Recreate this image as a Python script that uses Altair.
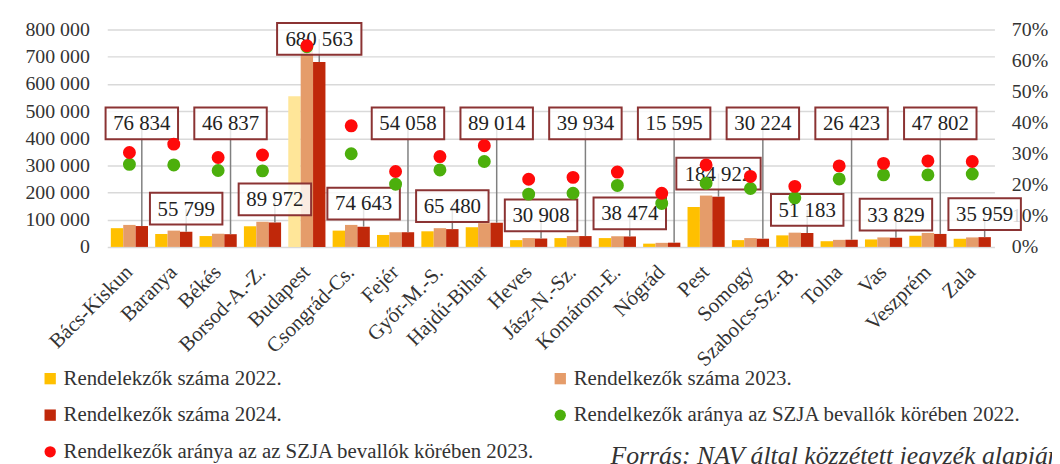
import altair as alt
import pandas as pd

counties = ["Bács-Kiskun", "Baranya", "Békés", "Borsod-A.-Z.", "Budapest", "Csongrád-Cs.",
            "Fejér", "Győr-M.-S.", "Hajdú-Bihar", "Heves", "Jász-N.-Sz.", "Komárom-E.",
            "Nógrád", "Pest", "Somogy", "Szabolcs-Sz.-B.", "Tolna", "Vas", "Veszprém", "Zala"]
v2022 = [69000, 47500, 40000, 76000, 555000, 60000, 44000, 57500, 72500, 25000,
         32500, 32500, 12000, 147000, 25000, 42500, 21000, 27500, 41000, 30000]
v2023 = [81000, 60000, 48500, 92500, 745000, 81000, 54000, 69000, 87500, 32500,
         40000, 39000, 15000, 189000, 32500, 52500, 26000, 35000, 51500, 35000]
v2024 = [76834, 55799, 46837, 89972, 680563, 74643, 54058, 65480, 89014, 30908,
         39934, 38474, 15595, 184922, 30224, 51183, 26423, 33829, 47802, 35959]
pct2022 = [26.6, 26.4, 24.6, 24.5, 64.5, 30.0, 20.2, 24.8, 27.5, 17.0,
           17.3, 19.8, 14.0, 20.5, 18.8, 15.8, 21.9, 23.2, 23.2, 23.5]
pct2023 = [30.4, 33.1, 28.8, 29.6, 64.8, 39.0, 24.3, 29.1, 32.6, 21.8,
           22.4, 24.1, 17.3, 26.4, 22.7, 19.5, 26.1, 26.9, 27.7, 27.5]

S22 = "Rendelekzők száma 2022."
S23 = "Rendelkezők száma 2023."
S24 = "Rendelkezők száma 2024."
P22 = "Rendelkezők aránya az SZJA bevallók körében 2022."
P23 = "Rendelkezők aránya az az SZJA bevallók körében 2023."
series = [S22, S23, S24, P22, P23]
colors = ["#FFC000", "#E59C6A", "#C0280A", "#4CAF0C", "#FF0A0A"]
shapes = ["square", "square", "square", "circle", "circle"]
source = "Forrás: NAV által közzétett jegyzék alapján"

FONT = "Liberation Serif"

# long tables
bar_rows = []
for s, vals in [(S22, v2022), (S23, v2023), (S24, v2024)]:
    for c, v in zip(counties, vals):
        bar_rows.append({"county": c, "series": s, "value": v})
bars = pd.DataFrame(bar_rows)

pt_rows = []
for s, vals in [(P22, pct2022), (P23, pct2023)]:
    for c, v in zip(counties, vals):
        pt_rows.append({"county": c, "series": s, "pct": v / 100})
pts = pd.DataFrame(pt_rows)

lab_rows = []
for i, (c, v) in enumerate(zip(counties, v2024)):
    txt = f"{v:,}".replace(",", " ")
    high = (i % 2 == 0) and c != "Budapest"
    ly = 455000 if high else v + 85000
    hw = (12 * len(txt) + 1) / 2 / 43
    path = f"M{-hw:.3f},-0.372L{hw:.3f},-0.372L{hw:.3f},0.372L{-hw:.3f},0.372Z"
    lab_rows.append({"county": c, "series": S24, "value": v, "label_y": ly,
                     "text": txt, "box": path})
labels = pd.DataFrame(lab_rows)

color_scale = alt.Scale(domain=series, range=colors)
legend = alt.Legend(orient="none", legendX=-68, legendY=341, columns=2, direction="horizontal",
                    title=None, labelFont=FONT, labelFontSize=21, labelColor="#333333",
                    labelLimit=700, symbolSize=130, symbolStrokeWidth=0, rowPadding=15,
                    columnPadding=15, labelOffset=3)

X = alt.X("county:N", sort=counties, scale=alt.Scale(paddingInner=0, paddingOuter=0),
          axis=alt.Axis(title=None, labelAngle=-45, labelAlign="right", labelBaseline="middle",
                        labelFont=FONT, labelFontSize=21, labelColor="#333333", ticks=False,
                        domain=False, labelPadding=22))
XO = alt.XOffset("series:N", scale=alt.Scale(domain=[S22, S23, S24], paddingInner=0,
                                             paddingOuter=0.29))
YL = alt.Scale(domain=[0, 800000], nice=False, zero=True)

left_axis = alt.Axis(values=list(range(0, 800001, 100000)),
                     labelExpr="replace(format(datum.value, ','), ',', ' ')",
                     title=None, domain=False, ticks=False, grid=True, gridColor="#D9D9D9",
                     gridWidth=1.5, labelFont=FONT, labelFontSize=20, labelColor="#333333",
                     labelPadding=18)
right_axis = alt.Axis(orient="right", values=[round(i / 10, 1) for i in range(8)], format=".0%",
                      title=None, domain=False, ticks=False, grid=False, labelFont=FONT,
                      labelFontSize=20, labelColor="#333333", labelPadding=17)

bar_layer = alt.Chart(bars).mark_bar().encode(
    x=X, xOffset=XO,
    y=alt.Y("value:Q", scale=YL, axis=left_axis),
    color=alt.condition((alt.datum.county == "Budapest") & (alt.datum.series == S22),
                        alt.value("#FFE699"),
                        alt.Color("series:N", scale=color_scale, legend=legend)),
)

rule_layer = alt.Chart(labels).mark_rule(color="#808080", strokeWidth=1.5).encode(
    x=X, xOffset=XO,
    y=alt.Y("label_y:Q", scale=YL, axis=left_axis),
    y2="value:Q",
)

box_layer = alt.Chart(labels).mark_point(filled=True, fill="white", fillOpacity=0.8,
                                         stroke="#8B3333", strokeWidth=2, strokeOpacity=1,
                                         size=7396, opacity=1).encode(
    x=X, xOffset=XO,
    y=alt.Y("label_y:Q", scale=YL, axis=left_axis),
    shape=alt.Shape("box:N", scale=None),
)

text_layer = alt.Chart(labels).mark_text(font=FONT, fontSize=21, color="#222222",
                                         baseline="middle", dy=1).encode(
    x=X, xOffset=XO,
    y=alt.Y("label_y:Q", scale=YL, axis=left_axis),
    text="text:N",
)

src_layer = alt.Chart(pd.DataFrame({"t": [source]})).mark_text(
    font=FONT, fontSize=26, fontStyle="italic", color="#333333", align="left",
    baseline="alphabetic").encode(text="t:N", x=alt.value(507), y=alt.value(438))

frame_layer = alt.Chart(pd.DataFrame({"t": [0]})).mark_rule(color="#D9D9D9", strokeWidth=1).encode(
    x=alt.value(-103), y=alt.value(-18), y2=alt.value(440))

left = alt.layer(bar_layer, rule_layer, box_layer, text_layer, src_layer, frame_layer)

pt_layer = alt.Chart(pts).mark_point(filled=True, opacity=1, size=170, strokeWidth=0).encode(
    x=X,
    y=alt.Y("pct:Q", scale=alt.Scale(domain=[0, 0.7], nice=False), axis=right_axis),
    color=alt.Color("series:N", scale=color_scale, legend=legend),
    shape=alt.Shape("series:N", scale=alt.Scale(domain=series, range=shapes), legend=legend),
)

chart = alt.layer(left, pt_layer).resolve_scale(y="independent").properties(
    width=894, height=219,
    autosize=alt.AutoSizeParams(type="none"),
    padding={"left": 100, "top": 20, "right": 58, "bottom": 217},
).configure_view(stroke=None)

chart.save("out.html", embed_options={"renderer": "svg", "actions": False})
